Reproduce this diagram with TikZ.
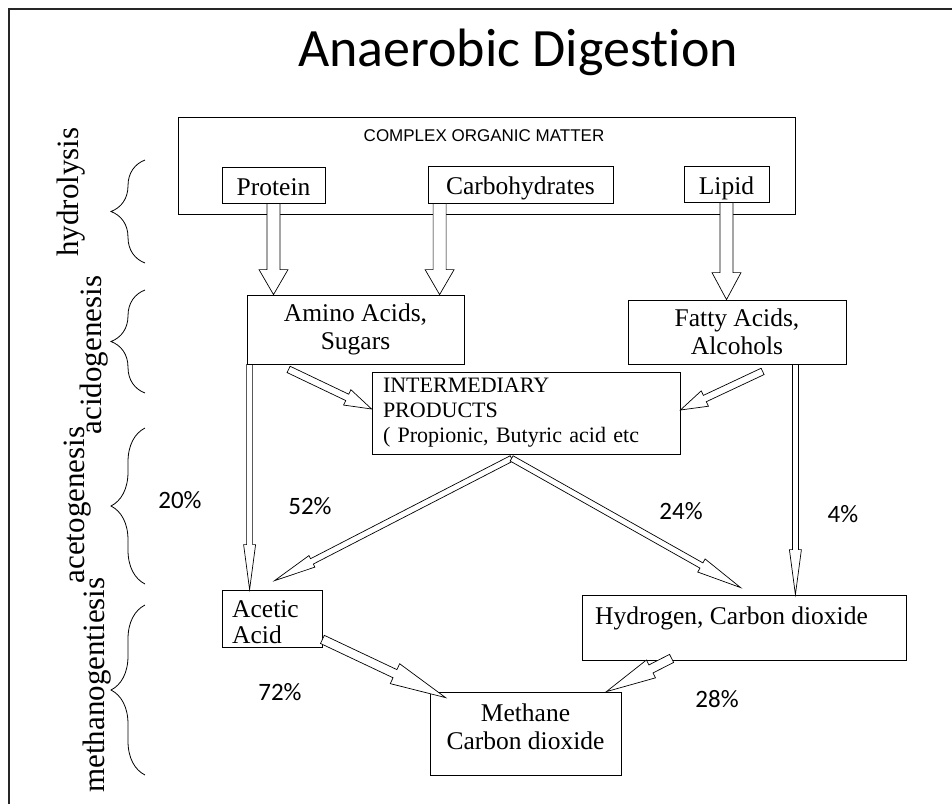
\documentclass[tikz,border=0pt]{standalone}
\usepackage{fontspec}
\setmainfont{Liberation Serif}
\newfontfamily\calib[Ligatures=NoCommon]{Carlito}
\newfontfamily\arialf{Liberation Sans}
\usetikzlibrary{calc,decorations.pathreplacing}
% hollow block arrow: #1 from, #2 to, #3 shaft half width, #4 head half width, #5 head length
\newcommand{\hollowarrow}[5]{%
  \coordinate (ha-c) at ($(#2)!#5!(#1)$);
  \draw[harrow] ($(#1)!#3!90:(#2)$) -- ($(ha-c)!#3!90:(#2)$) -- ($(ha-c)!#4!90:(#2)$)
     -- (#2) -- ($(ha-c)!#4!-90:(#2)$) -- ($(ha-c)!#3!-90:(#2)$) -- ($(#1)!#3!-90:(#2)$) -- cycle;}
\begin{document}
\begin{tikzpicture}[x=1pt,y=-1pt,
  box/.style={draw=black, line width=0.8pt, inner sep=0pt, fill=white},
  body/.style={font=\fontsize{25.5}{28}\selectfont},
  onerow/.style={text height=23pt, text depth=3pt},
  harrow/.style={draw=black, line width=0.7pt, fill=white, line join=miter},
  pct/.style={font=\calib\fontsize{25}{30}\selectfont, inner sep=0pt},
  phase/.style={font=\fontsize{31}{34}\selectfont, rotate=90, anchor=base, inner sep=0pt},
  bracestyle/.style={draw=black, line width=0.8pt, decorate, decoration={brace, amplitude=34pt}}
]
\useasboundingbox (0,0) rectangle (952,804);
\draw[line width=1.5pt, draw=black!85] (9,804) -- (9,9) -- (952,9);

\node[font=\calib\fontsize{54}{60}\selectfont, anchor=base, inner sep=0pt] (title) at (518,66) {Anaerobic Digestion};

% boxes
\node[box, minimum width=617pt, minimum height=97pt] (com) at (486.5,165.5) {};
\node[font=\arialf\fontsize{17}{20}\selectfont, inner sep=0pt] (comlbl) at (484,136) {COMPLEX ORGANIC MATTER};
\node[box, body, onerow, minimum width=103pt, minimum height=36pt] (protein) at (273.5,185) {Protein};
\node[box, body, onerow, minimum width=185pt, minimum height=37pt] (carbo) at (520.5,184.5) {Carbohydrates};
\node[box, body, onerow, minimum width=85pt, minimum height=36pt] (lipid) at (726.5,184) {Lipid};
\node[box, body, align=center, minimum width=217pt, minimum height=69pt] (amino) at (355.5,329.5) {Amino Acids,\\Sugars};
\node[box, body, align=center, minimum width=218pt, minimum height=64pt] (fatty) at (737,332) {Fatty Acids,\\Alcohols};
\node[box, font=\fontsize{22}{25}\selectfont, align=left, text width=286pt, inner xsep=11pt, minimum width=308pt, minimum height=82pt] (inter) at (526,413) {INTERMEDIARY\\PRODUCTS\\( Propionic, Butyric acid etc};
\node[box, minimum width=100pt, minimum height=57pt] (acetic) at (272,618.5) {};
\node[font=\fontsize{25.5}{26}\selectfont, align=left, anchor=north west, inner sep=0pt] (acetictxt) at (232,600) {Acetic\\Acid};
\node[box, minimum width=324pt, minimum height=65pt] (hydrogen) at (744,627.5) {};
\node[body, anchor=north west, inner sep=0pt] (hydrogentxt) at (595,607) {Hydrogen, Carbon dioxide};
\node[box, minimum width=191pt, minimum height=83pt] (methane) at (525.5,733.5) {};
\node[body, align=center, anchor=north, inner sep=0pt] (methanetxt) at (525.5,704) {Methane\\Carbon dioxide};

% arrow end points
\coordinate (a1s) at (protein.south); \coordinate (a1e) at (protein.south |- amino.north);
\coordinate (a2s) at ([xshift=12pt]carbo.south west); \coordinate (a2e) at (a2s |- amino.north);
\coordinate (a3s) at (lipid.south); \coordinate (a3e) at (lipid.south |- fatty.north);
\coordinate (a4s) at ([xshift=42pt,yshift=-5pt]amino.south west); \coordinate (a4e) at ([yshift=4pt]inter.west);
\coordinate (a5s) at ([xshift=135pt,yshift=-7pt]fatty.south west); \coordinate (a5e) at ([yshift=3pt]inter.east);
\coordinate (a6s) at ([xshift=3pt]amino.south west); \coordinate (a6e) at (a6s |- acetic.north);
\coordinate (a7s) at ([xshift=-51pt]fatty.south east); \coordinate (a7e) at (a7s |- hydrogen.north);
\coordinate (apex) at ([xshift=140pt,yshift=-4pt]inter.south west);
\coordinate (a8e) at ([xshift=53pt,yshift=9pt]acetic.north west);
\coordinate (a9e) at ([xshift=159pt,yshift=7pt]hydrogen.north west);
\coordinate (a10s) at ([yshift=8pt]acetic.south east); \coordinate (a10e) at ([xshift=16pt,yshift=-6pt]methane.north west);
\coordinate (a11s) at ([xshift=90pt,yshift=2pt]hydrogen.south west); \coordinate (a11e) at ([xshift=-15pt]methane.north east);

% arrows
\hollowarrow{a1s}{a1e}{6.5pt}{14.5pt}{25pt}
\hollowarrow{a2s}{a2e}{6.5pt}{14.5pt}{25pt}
\hollowarrow{a3s}{a3e}{6.5pt}{14.5pt}{27pt}
\hollowarrow{a4s}{a4e}{3.5pt}{8.5pt}{27pt}
\hollowarrow{a5s}{a5e}{3.5pt}{8.5pt}{27pt}
\hollowarrow{a6s}{a6e}{3pt}{6pt}{45pt}
\hollowarrow{a7s}{a7e}{3pt}{6pt}{45pt}
\hollowarrow{apex}{a8e}{3pt}{6.5pt}{42pt}
\hollowarrow{apex}{a9e}{3pt}{7.5pt}{45pt}
\hollowarrow{a10s}{a10e}{4.5pt}{11pt}{56pt}
\hollowarrow{a11s}{a11e}{4.5pt}{10pt}{50pt}

% percentages
\node[pct] (p20) at (180,500) {20\%};
\node[pct] (p52) at (310,506) {52\%};
\node[pct] (p24) at (681,511) {24\%};
\node[pct] (p4) at (843,514) {4\%};
\node[pct] (p72) at (280,692) {72\%};
\node[pct] (p28) at (717,699) {28\%};

% braces and phase labels
\draw[bracestyle] (145,263) -- (145,160);
\draw[bracestyle] (145,393) -- (145,290);
\draw[bracestyle] (145,584) -- (145,428);
\draw[bracestyle] (145,775) -- (145,605);
\node[phase] (lhyd) at (78,192) {hydrolysis};
\node[phase] (lacid) at (101,355) {acidogenesis};
\node[phase] (lacet) at (84,505) {acetogenesis};
\node[phase] (lmeth) at (104,685) {methanogentiesis};
\end{tikzpicture}
\end{document}
